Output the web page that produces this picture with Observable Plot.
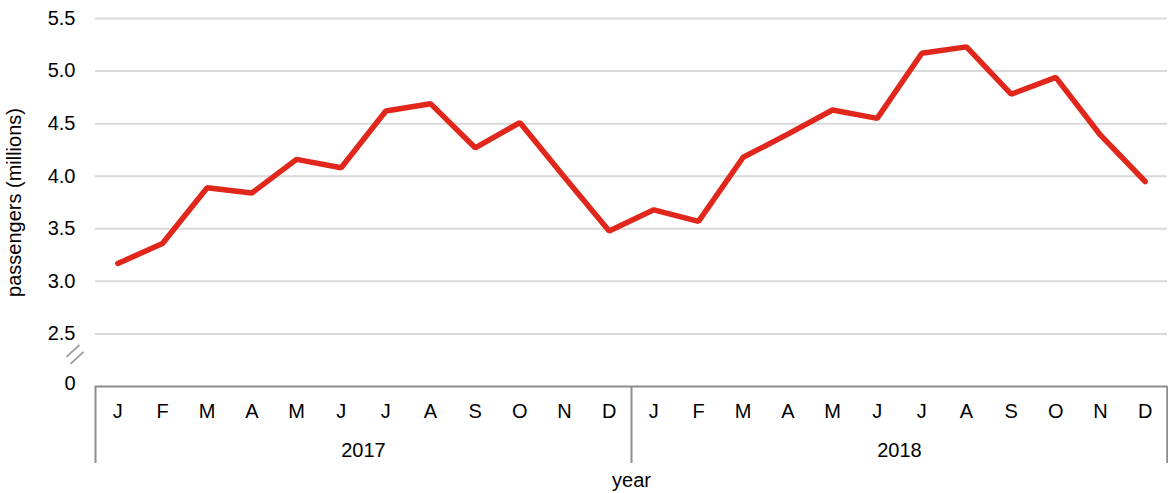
<!DOCTYPE html>
<html>
<head>
<meta charset="utf-8">
<script src="https://cdn.jsdelivr.net/npm/d3@7"></script>
<script src="https://cdn.jsdelivr.net/npm/@observablehq/plot@0.6"></script>
<style>
  html, body { margin: 0; padding: 0; background: #fff; }
  #chart svg { display: block; }
</style>
</head>
<body>
<div id="chart"></div>
<script>
// ---- data ----
const years = ["2017", "2018"];
const monthLetters = ["J", "F", "M", "A", "M", "J", "J", "A", "S", "O", "N", "D"];
const passengers2017 = [3.17, 3.36, 3.89, 3.84, 4.16, 4.08, 4.62, 4.69, 4.27, 4.51, 3.99, 3.48];
const passengers2018 = [3.68, 3.57, 4.18, 4.40, 4.63, 4.55, 5.17, 5.23, 4.78, 4.94, 4.39, 3.95];
const yTicks = [2.5, 3.0, 3.5, 4.0, 4.5, 5.0, 5.5];
const yBase = 2.0;      // axis baseline, labelled "0" (broken axis)
const yTop = 5.5;

// ---- build table ----
const rows = [];
[passengers2017, passengers2018].forEach((vals, yi) => {
  vals.forEach((v, mi) => rows.push({i: yi * 12 + mi, year: years[yi], month: monthLetters[mi], value: v}));
});
const n = rows.length;
const monthTicks = rows.map(d => d.i);
const yearCenters = years.map((y, k) => k * 12 + 5.5);
const separators = [-0.5, ...years.map((y, k) => k * 12 + 11.5)];

const FONT = "Liberation Sans, Arial, Helvetica, sans-serif";
const axisGray = "#8c8c8c";

// axis break symbol (two short slashes), placed via the y scale
function axisBreak(value) {
  return (index, scales, values, dimensions) => {
    const g = d3.create("svg:g").attr("stroke", "#9a9a9a").attr("stroke-width", 1.8);
    const cy = scales.y(value);
    const cx = dimensions.marginLeft - 20;
    [[-2, -3.5], [2, 3.5]].forEach(([ox, oy]) => {
      g.append("line")
        .attr("x1", cx + ox - 6.5).attr("y1", cy + oy + 6)
        .attr("x2", cx + ox + 6.5).attr("y2", cy + oy - 6);
    });
    return g.node();
  };
}

const chart = Plot.plot({
  width: 1168,
  height: 493,
  marginLeft: 95,
  marginRight: 1,
  marginTop: 18,
  marginBottom: 107,
  style: {fontFamily: FONT, fontSize: "20px", color: "#000", background: "#fff"},
  x: {domain: [-0.5, n - 0.5]},
  y: {domain: [yBase, yTop]},
  marks: [
    Plot.gridY(yTicks, {stroke: "#d9d9d9", strokeOpacity: 1, strokeWidth: 2}),
    Plot.axisY(yTicks, {
      tickSize: 0, tickPadding: 20, tickFormat: d => d.toFixed(1), fontSize: 20,
      label: "passengers (millions)", labelAnchor: "center", labelArrow: "none", labelOffset: 89
    }),
    Plot.axisY([yBase], {tickSize: 0, tickPadding: 20, tickFormat: () => "0", fontSize: 20, dy: -2.5, label: null}),
    axisBreak(yBase + 0.3),
    Plot.ruleY([yBase], {stroke: axisGray, strokeWidth: 2}),
    Plot.axisX(separators.concat([n - 0.5]), {tickSize: 77, stroke: axisGray, strokeWidth: 2, tickFormat: () => "", label: null}),
    Plot.axisX(monthTicks, {tickSize: 0, tickPadding: 17, tickFormat: i => monthLetters[i % 12], fontSize: 20, label: null}),
    Plot.axisX(yearCenters, {
      tickSize: 0, tickPadding: 56, tickFormat: (d, k) => years[k], fontSize: 20,
      label: "year", labelAnchor: "center", labelArrow: "none", labelOffset: 100
    }),
    Plot.line(rows, {x: "i", y: "value", stroke: "#e1261c", strokeWidth: 5.5, strokeLinecap: "round", strokeLinejoin: "miter"})
  ]
});
document.getElementById("chart").append(chart);
</script>
</body>
</html>
